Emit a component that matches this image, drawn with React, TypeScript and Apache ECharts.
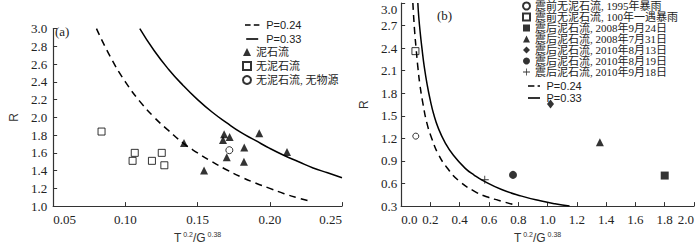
import React, { useEffect, useRef } from 'react';
import * as echarts from 'echarts';

// ---------- Panel (a) ----------
const aMudflow = [
  [0.1406, 1.71], [0.1545, 1.40], [0.1684, 1.81], [0.1676, 1.745], [0.1722, 1.78],
  [0.1702, 1.55], [0.1823, 1.66], [0.1821, 1.50], [0.1927, 1.82], [0.2119, 1.61],
];
const aNoMudflow = [
  [0.0835, 1.84], [0.105, 1.51], [0.1065, 1.60], [0.1184, 1.51], [0.1252, 1.60], [0.127, 1.46],
];
const aNoSource = [[0.172, 1.63]];
const aCurve024 = [
  [0.080, 3.00], [0.090, 2.67], [0.100, 2.40], [0.110, 2.18], [0.120, 2.00], [0.130, 1.85],
  [0.140, 1.71], [0.150, 1.60], [0.160, 1.50], [0.170, 1.41], [0.180, 1.33], [0.190, 1.26],
  [0.200, 1.20], [0.210, 1.14], [0.220, 1.09], [0.229, 1.05],
];
const aCurve033 = [
  [0.110, 3.00], [0.120, 2.75], [0.130, 2.54], [0.140, 2.36], [0.150, 2.20], [0.160, 2.06],
  [0.170, 1.94], [0.180, 1.83], [0.190, 1.74], [0.200, 1.65], [0.210, 1.57], [0.220, 1.50],
  [0.230, 1.43], [0.240, 1.375], [0.250, 1.32],
];
const aXAxis = { min: 0.05, max: 0.25, interval: 0.05, digits: 2 };
const aYAxis = { min: 1.0, max: 3.0, interval: 0.2, digits: 1 };
const aLegendLines = ['P=0.24', 'P=0.33'];
const aLegendMarks = ['泥石流', '无泥石流', '无泥石流, 无物源'];

// ---------- Panel (b) ----------
const b1995 = [[0.10, 1.23]];
const b100yr = [[0.0975, 2.36]];
const b20080924 = [[1.80, 0.706]];
const b20080731 = [[1.357, 1.148]];
const b20100813 = [[1.02, 1.657]];
const b20100819 = [[0.764, 0.715]];
const b20100918 = [[0.571, 0.651]];
const bCurve024 = [
  [0.080, 3.00], [0.086, 2.80], [0.093, 2.60], [0.102, 2.40], [0.114, 2.15], [0.129, 1.90],
  [0.150, 1.65], [0.175, 1.41], [0.209, 1.20], [0.255, 0.985], [0.312, 0.814], [0.391, 0.642],
  [0.504, 0.493], [0.590, 0.42], [0.664, 0.377], [0.766, 0.32],
];
const bCurve033 = [
  [0.114, 3.00], [0.120, 2.82], [0.130, 2.61], [0.142, 2.40], [0.158, 2.15], [0.180, 1.89],
  [0.200, 1.70], [0.221, 1.53], [0.255, 1.33], [0.300, 1.145], [0.357, 0.975], [0.436, 0.805],
  [0.500, 0.71], [0.562, 0.635], [0.686, 0.52], [0.823, 0.433], [0.950, 0.37], [1.050, 0.33],
  [1.150, 0.30],
];
const bXAxis = { min: 0, max: 2.0, interval: 0.2, digits: 1 };
const bYAxis = { min: 0.3, max: 3.0, interval: 0.3, digits: 1 };
const bNames = [
  '震前无泥石流, 1995年暴雨',
  '震前无泥石流, 100年一遇暴雨',
  '震后泥石流, 2008年9月24日',
  '震后泥石流, 2008年7月31日',
  '震后泥石流, 2010年8月13日',
  '震后泥石流, 2010年8月19日',
  '震后泥石流, 2010年9月18日',
];
const bLegendLines = ['P=0.24', 'P=0.33'];

const SERIF = '"Liberation Serif", "Noto Sans CJK SC", serif';
const SANS = '"Liberation Sans", Arial, sans-serif';
const AXIS_COLOR = '#333';

const ICON_DASH_A = 'path://M0,0h7v2h-7z M11,0h7v2h-7z';
const ICON_DASH_B = 'path://M0,0h8v2h-8z M12,0h3v2h-3z';
const ICON_SOLID = 'path://M0,0h15v2h-15z';

function valueAxis(cfg: any, extra: any) {
  return {
    type: 'value',
    min: cfg.min,
    max: cfg.max,
    interval: cfg.interval,
    axisLine: { show: true, lineStyle: { color: AXIS_COLOR, width: 1.2 } },
    axisTick: { show: true, inside: true, length: 4, lineStyle: { color: AXIS_COLOR, width: 1 } },
    splitLine: { show: false },
    axisLabel: {
      formatter: (v: number) => v.toFixed(cfg.digits),
      fontFamily: SERIF,
      fontSize: 13,
      color: '#222',
      ...(extra.axisLabel || {}),
    },
    ...extra.rest,
  };
}

const xName = 'T{sup| 0.2}/G{sup| 0.38}';
const xNameStyle = (padding: number[]) => ({
  fontFamily: SANS,
  fontSize: 12,
  color: '#333',
  lineHeight: 14,
  padding,
  rich: {
    sup: { fontSize: 7, verticalAlign: 'top', lineHeight: 14, fontFamily: SANS, color: '#333' },
  },
});

const open = { color: '#fff', borderColor: '#000', borderWidth: 1 };
const filled = { color: '#000' };
const PLUS = 'path://M4,0h1v4h4v1h-4v4h-1v-4h-4v-1h4z';

function optionA(): any {
  return {
    animation: false,
    grid: { left: 40, right: 8, top: 28.6, bottom: 37 },
    xAxis: valueAxis(aXAxis, {
      axisLabel: { margin: 7, alignMinLabel: 'left', alignMaxLabel: 'right' },
      rest: {
        name: xName,
        nameLocation: 'middle',
        nameGap: 19,
        nameTextStyle: xNameStyle([0, 0, 0, 0]),
      },
    }),
    yAxis: valueAxis(aYAxis, {
      axisLabel: { margin: 6 },
      rest: {
        name: 'R',
        nameLocation: 'middle',
        nameGap: 24,
        nameTextStyle: { fontFamily: SANS, fontSize: 12, color: '#333' },
      },
    }),
    legend: [
      {
        data: [
          { name: aLegendLines[0], icon: ICON_DASH_A },
          { name: aLegendLines[1], icon: ICON_SOLID },
        ],
        orient: 'vertical',
        left: 245,
        top: 18,
        padding: 0,
        itemWidth: 18,
        itemHeight: 1.6,
        itemGap: 0,
        textStyle: { fontFamily: SANS, fontSize: 11, color: '#222', lineHeight: 14 },
      },
      {
        data: aLegendMarks,
        orient: 'vertical',
        left: 242,
        top: 45,
        padding: 0,
        itemWidth: 8,
        itemHeight: 8,
        itemGap: 0,
        textStyle: { fontFamily: SERIF, fontSize: 11, color: '#222', lineHeight: 14 },
      },
    ],
    graphic: [
      {
        type: 'text',
        left: 55,
        top: 25,
        style: { text: '(a)', font: `13px ${SERIF}`, fill: '#222' },
      },
    ],
    series: [
      {
        name: 'P=0.24', type: 'line', data: aCurve024, symbol: 'none', smooth: 0.5,
        lineStyle: { color: '#000', width: 1.5, type: [7, 5] }, itemStyle: { color: '#000' },
      },
      {
        name: 'P=0.33', type: 'line', data: aCurve033, symbol: 'none', smooth: 0.5,
        lineStyle: { color: '#000', width: 1.5 }, itemStyle: { color: '#000' },
      },
      { name: '泥石流', type: 'scatter', data: aMudflow, symbol: 'triangle', symbolSize: 8, itemStyle: filled },
      { name: '无泥石流', type: 'scatter', data: aNoMudflow, symbol: 'rect', symbolSize: 7, itemStyle: open },
      { name: '无泥石流, 无物源', type: 'scatter', data: aNoSource, symbol: 'circle', symbolSize: 7, itemStyle: open },
    ],
  };
}

function optionB(): any {
  return {
    animation: false,
    grid: { left: 50, right: 6, top: 3, bottom: 37 },
    xAxis: valueAxis(bXAxis, {
      axisLabel: { margin: 7, alignMinLabel: 'left', alignMaxLabel: 'right' },
      rest: {
        name: xName,
        nameLocation: 'middle',
        nameGap: 19,
        nameTextStyle: xNameStyle([0, 20, 0, 0]),
      },
    }),
    yAxis: valueAxis(bYAxis, {
      axisLabel: { margin: 4, verticalAlignMaxLabel: 'top' },
      rest: {
        name: 'R',
        nameLocation: 'middle',
        nameGap: 24,
        nameTextStyle: { fontFamily: SANS, fontSize: 12, color: '#333' },
      },
    }),
    legend: [
      {
        data: bNames,
        orient: 'vertical',
        left: 172,
        top: 0.5,
        padding: 0,
        itemWidth: 7,
        itemHeight: 7,
        itemGap: 0,
        textStyle: { fontFamily: SERIF, fontSize: 11, color: '#222', lineHeight: 11 },
      },
      {
        data: [
          { name: bLegendLines[0], icon: ICON_DASH_B },
          { name: bLegendLines[1], icon: ICON_SOLID },
        ],
        orient: 'vertical',
        left: 178,
        top: 80,
        padding: 0,
        itemWidth: 15,
        itemHeight: 1.6,
        itemGap: 0,
        textStyle: { fontFamily: SANS, fontSize: 11, color: '#222', lineHeight: 12 },
      },
    ],
    graphic: [
      {
        type: 'text',
        left: 87,
        top: 9,
        style: { text: '(b)', font: `13px ${SERIF}`, fill: '#222' },
      },
    ],
    series: [
      {
        name: 'P=0.24', type: 'line', data: bCurve024, symbol: 'none', smooth: 0.5,
        lineStyle: { color: '#000', width: 1.5, type: [7, 5] }, itemStyle: { color: '#000' },
      },
      {
        name: 'P=0.33', type: 'line', data: bCurve033, symbol: 'none', smooth: 0.5,
        lineStyle: { color: '#000', width: 1.5 }, itemStyle: { color: '#000' },
      },
      { name: bNames[0], type: 'scatter', data: b1995, symbol: 'circle', symbolSize: 6, itemStyle: open },
      { name: bNames[1], type: 'scatter', data: b100yr, symbol: 'rect', symbolSize: 7, itemStyle: open },
      { name: bNames[2], type: 'scatter', data: b20080924, symbol: 'rect', symbolSize: 8, itemStyle: filled },
      { name: bNames[3], type: 'scatter', data: b20080731, symbol: 'triangle', symbolSize: 8, itemStyle: filled },
      { name: bNames[4], type: 'scatter', data: b20100813, symbol: 'diamond', symbolSize: [7, 9], itemStyle: filled },
      { name: bNames[5], type: 'scatter', data: b20100819, symbol: 'circle', symbolSize: 8, itemStyle: filled },
      { name: bNames[6], type: 'scatter', data: b20100918, symbol: PLUS, symbolSize: 8, itemStyle: filled },
    ],
  };
}

export default function App() {
  const refA = useRef<HTMLDivElement>(null);
  const refB = useRef<HTMLDivElement>(null);

  useEffect(() => {
    const chartA = echarts.init(refA.current!, undefined, { renderer: 'svg' });
    const chartB = echarts.init(refB.current!, undefined, { renderer: 'svg' });
    chartA.setOption(optionA());
    chartB.setOption(optionB());
    return () => {
      chartA.dispose();
      chartB.dispose();
    };
  }, []);

  return (
    <div style={{ position: 'absolute', left: 0, top: 0, width: 700, height: 250, background: '#fff' }}>
      <div ref={refA} style={{ position: 'absolute', left: 0, top: 0, width: 350, height: 250 }} />
      <div ref={refB} style={{ position: 'absolute', left: 350, top: 0, width: 350, height: 250 }} />
    </div>
  );
}
